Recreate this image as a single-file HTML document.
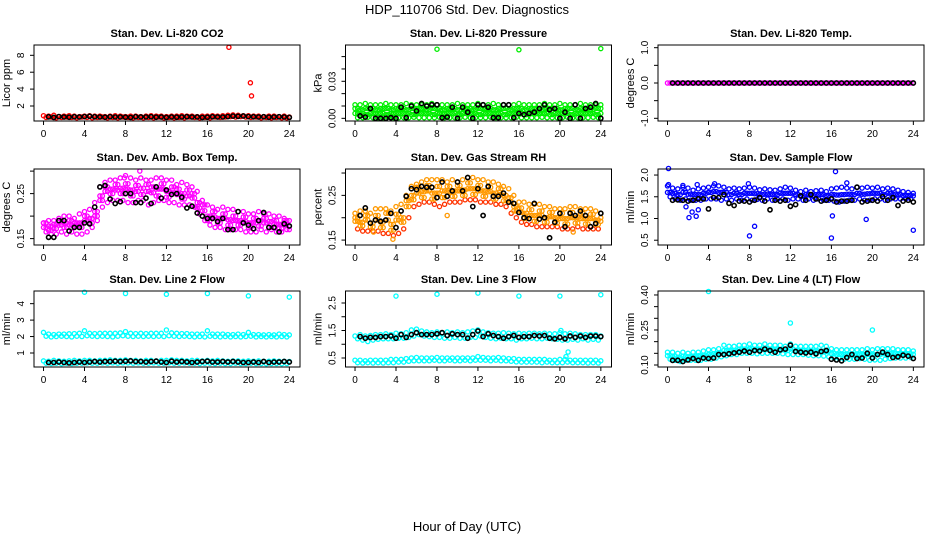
<!DOCTYPE html>
<html><head><meta charset="utf-8"><style>
html,body{margin:0;padding:0;background:#fff}
svg{display:block;font-family:"Liberation Sans",sans-serif}
</style></head><body>
<svg id="chart" width="936" height="540" viewBox="0 0 936 540">
<text x="467" y="14" text-anchor="middle" font-size="13">HDP_110706  Std. Dev. Diagnostics</text>
<text x="467" y="531" text-anchor="middle" font-size="13">Hour of Day (UTC)</text>
</svg>
<script>
const xTicks=[0,4,8,12,16,20,24];
const co2RedA=[0.85,0.8,0.9,0.75,0.8,0.85,0.8,0.75,0.8,0.85,0.8,0.8,0.75,0.8,0.85,0.8,0.75,0.8,0.8,0.75,0.8,0.85,0.8,0.8,0.75,0.8,0.8,0.85,0.8,0.8,0.75,0.8,0.8,0.85,0.8,0.85,0.9,0.95,0.9,0.85,0.85,0.8,0.8,0.75,0.8,0.8,0.75,0.8,0.7];
const co2RedB=[0.65,0.7,0.6,0.65,0.7,0.65,0.6,0.7,0.65,0.6,0.65,0.7,0.6,0.65,0.6,0.7,0.65,0.6,0.65,0.6,0.65,0.6,0.7,0.6,0.65,0.6,0.65,0.6,0.7,0.65,0.6,0.65,0.6,0.7,0.65,0.7,0.75,0.7,0.75,0.7,0.65,0.7,0.6,0.65,0.6,0.65,0.6,0.6,0.55];
const co2Black=[0.72,0.65,0.75,0.7,0.68,0.72,0.7,0.75,0.78,0.72,0.7,0.68,0.72,0.7,0.7,0.68,0.65,0.72,0.7,0.7,0.72,0.68,0.7,0.65,0.7,0.68,0.7,0.72,0.7,0.7,0.65,0.68,0.72,0.7,0.7,0.75,0.8,0.78,0.82,0.75,0.72,0.7,0.72,0.68,0.7,0.72,0.7,0.65];
const co2OutX=[18.1,20.2,20.3], co2OutY=[8.95,4.75,3.2];

const prA=[0.011,0.011,0.012,0.011,0.011,0.011,0.012,0.011,0.011,0.011,0.012,0.011,0.011,0.011,0.011,0.012,0.011,0.011,0.011,0.011,0.012,0.011,0.011,0.011,0.012,0.011,0.011,0.012,0.011,0.011,0.011,0.011,0.012,0.011,0.011,0.011,0.011,0.012,0.011,0.011,0.012,0.011,0.011,0.011,0.012,0.011,0.011,0.011,0.011];
const prB=[0.008,0.007,0.008,0.008,0.007,0.008,0.008,0.007,0.008,0.008,0.007,0.008,0.008,0.008,0.007,0.008,0.008,0.007,0.008,0.008,0.007,0.008,0.008,0.007,0.008,0.008,0.008,0.007,0.008,0.008,0.007,0.008,0.008,0.007,0.008,0.008,0.007,0.008,0.008,0.008,0.007,0.008,0.008,0.007,0.008,0.008,0.007,0.008,0.008];
const prC=[0.004,0.004,0.003,0.004,0.004,0.004,0.003,0.004,0.004,0.004,0.004,0.003,0.004,0.004,0.004,0.003,0.004,0.004,0.004,0.004,0.003,0.004,0.004,0.004,0.003,0.004,0.004,0.004,0.004,0.003,0.004,0.004,0.004,0.003,0.004,0.004,0.004,0.004,0.003,0.004,0.004,0.004,0.003,0.004,0.004,0.004,0.004,0.003,0.004];
const prD=[0.0005,0.0005,0.0008,0.0005,0.0005,0.0005,0.0008,0.0005,0.0005,0.0005,0.0005,0.0008,0.0005,0.0005,0.0005,0.0005,0.0008,0.0005,0.0005,0.0005,0.0005,0.0008,0.0005,0.0005,0.0005,0.0005,0.0008,0.0005,0.0005,0.0005,0.0005,0.0008,0.0005,0.0005,0.0005,0.0005,0.0008,0.0005,0.0005,0.0005,0.0005,0.0008,0.0005,0.0005,0.0005,0.0005,0.0008,0.0005,0.0005];
const prBlack=[0.002,0.001,0.008,0.0,0.0,0.0,0.0005,0.0,0.009,0.0005,0.01,0.006,0.012,0.01,0.011,0.011,0.0005,0.001,0.009,0.0,0.009,0.005,0.0,0.011,0.011,0.009,0.0005,0.0005,0.011,0.011,0.0005,0.004,0.003,0.004,0.005,0.008,0.011,0.007,0.008,0.0,0.005,0.0,0.011,0.0,0.008,0.009,0.012,0.0];
const prOutX=[8.0,16.0,24.0], prOutY=[0.056,0.0555,0.0565];

const tmpA=[0,0,0,0,0,0,0,0,0,0,0,0,0,0,0,0,0,0,0,0,0,0,0,0,0,0,0,0,0,0,0,0,0,0,0,0,0,0,0,0,0,0,0,0,0,0,0,0,0];
const tmpBlack=[0,0,0,0,0,0,0,0,0,0,0,0,0,0,0,0,0,0,0,0,0,0,0,0,0,0,0,0,0,0,0,0,0,0,0,0,0,0,0,0,0,0,0,0,0,0,0,0];

const ambHi=[0.185,0.19,0.19,0.195,0.2,0.2,0.195,0.205,0.21,0.215,0.23,0.265,0.275,0.28,0.28,0.285,0.29,0.285,0.28,0.285,0.28,0.28,0.285,0.285,0.28,0.28,0.27,0.275,0.27,0.265,0.255,0.235,0.225,0.22,0.215,0.22,0.215,0.215,0.21,0.21,0.205,0.205,0.21,0.205,0.205,0.2,0.2,0.195,0.19];
const ambLo=[0.165,0.16,0.16,0.165,0.16,0.165,0.16,0.16,0.165,0.175,0.19,0.22,0.23,0.235,0.235,0.235,0.23,0.23,0.235,0.235,0.225,0.23,0.235,0.235,0.23,0.23,0.225,0.225,0.225,0.22,0.205,0.19,0.18,0.175,0.175,0.17,0.17,0.17,0.17,0.165,0.165,0.165,0.17,0.165,0.17,0.165,0.165,0.17,0.165];
const ambM1=[0.175,0.178,0.172,0.18,0.185,0.18,0.178,0.185,0.19,0.195,0.21,0.245,0.255,0.26,0.258,0.262,0.26,0.258,0.255,0.262,0.255,0.252,0.26,0.26,0.255,0.252,0.248,0.25,0.245,0.24,0.23,0.212,0.2,0.198,0.195,0.195,0.192,0.19,0.19,0.188,0.185,0.185,0.19,0.185,0.188,0.182,0.182,0.18,0.178];
const ambM2=[0.185,0.168,0.182,0.19,0.175,0.19,0.185,0.175,0.2,0.185,0.2,0.235,0.265,0.25,0.27,0.25,0.272,0.245,0.268,0.248,0.27,0.265,0.245,0.272,0.242,0.265,0.26,0.238,0.258,0.25,0.218,0.225,0.19,0.21,0.185,0.205,0.18,0.2,0.18,0.198,0.175,0.195,0.178,0.195,0.175,0.19,0.172,0.19,0.17];
const ambBlack=[0.153,0.153,0.19,0.19,0.167,0.175,0.175,0.185,0.183,0.22,0.265,0.268,0.238,0.228,0.232,0.25,0.25,0.23,0.23,0.24,0.228,0.265,0.24,0.258,0.248,0.25,0.242,0.218,0.222,0.207,0.2,0.195,0.195,0.188,0.195,0.17,0.17,0.21,0.185,0.18,0.172,0.19,0.208,0.175,0.175,0.165,0.183,0.178];
const ambOutX=[9.4,7.9], ambOutY=[0.3,0.285];

const rhHi=[0.21,0.215,0.215,0.21,0.22,0.22,0.22,0.215,0.225,0.23,0.25,0.27,0.275,0.28,0.285,0.285,0.285,0.285,0.28,0.285,0.28,0.285,0.29,0.29,0.285,0.285,0.28,0.28,0.275,0.27,0.265,0.25,0.235,0.235,0.23,0.23,0.23,0.225,0.225,0.22,0.22,0.22,0.225,0.225,0.22,0.22,0.22,0.215,0.21];
const rhLo=[0.175,0.17,0.17,0.17,0.17,0.165,0.165,0.16,0.165,0.175,0.2,0.225,0.23,0.235,0.235,0.23,0.225,0.23,0.235,0.235,0.235,0.24,0.24,0.24,0.235,0.235,0.235,0.23,0.23,0.225,0.21,0.2,0.19,0.185,0.185,0.18,0.18,0.18,0.18,0.18,0.175,0.175,0.175,0.18,0.175,0.175,0.175,0.175,0.175];
const rhM1=[0.192,0.19,0.195,0.188,0.195,0.19,0.195,0.185,0.195,0.2,0.225,0.25,0.255,0.258,0.26,0.255,0.255,0.26,0.258,0.26,0.26,0.262,0.265,0.265,0.26,0.26,0.258,0.255,0.252,0.25,0.235,0.225,0.212,0.21,0.205,0.205,0.205,0.2,0.202,0.2,0.198,0.198,0.2,0.2,0.198,0.198,0.198,0.195,0.192];
const rhM2=[0.2,0.182,0.205,0.18,0.205,0.178,0.21,0.172,0.208,0.19,0.238,0.24,0.268,0.245,0.272,0.242,0.27,0.245,0.27,0.248,0.272,0.25,0.278,0.252,0.272,0.248,0.268,0.242,0.265,0.238,0.245,0.215,0.222,0.198,0.218,0.192,0.215,0.19,0.212,0.188,0.21,0.186,0.212,0.188,0.21,0.186,0.208,0.185,0.2];
const rhBlack=[0.205,0.222,0.188,0.195,0.192,0.195,0.21,0.178,0.215,0.248,0.265,0.263,0.27,0.268,0.268,0.245,0.28,0.248,0.26,0.28,0.26,0.29,0.225,0.265,0.205,0.27,0.248,0.248,0.255,0.235,0.232,0.212,0.2,0.198,0.232,0.197,0.2,0.155,0.19,0.21,0.18,0.21,0.205,0.215,0.205,0.18,0.187,0.21];
const rhOutX=[3.7,1.8,9.0,21.3], rhOutY=[0.152,0.168,0.205,0.168];

const sfHi=[1.75,1.7,1.68,1.72,1.7,1.65,1.68,1.7,1.72,1.75,1.75,1.72,1.68,1.7,1.68,1.7,1.72,1.7,1.66,1.68,1.66,1.65,1.68,1.72,1.7,1.65,1.62,1.65,1.62,1.64,1.65,1.62,1.68,1.7,1.72,1.7,1.68,1.72,1.7,1.72,1.7,1.72,1.68,1.7,1.68,1.65,1.62,1.6,1.58];
const sfLo=[1.5,1.45,1.42,1.45,1.42,1.42,1.42,1.45,1.45,1.45,1.42,1.45,1.42,1.45,1.42,1.45,1.42,1.44,1.42,1.45,1.42,1.44,1.45,1.42,1.45,1.45,1.42,1.45,1.42,1.45,1.42,1.42,1.4,1.38,1.4,1.42,1.42,1.45,1.42,1.42,1.45,1.45,1.42,1.45,1.45,1.45,1.45,1.45,1.45];
const sfMid=[1.6,1.58,1.55,1.6,1.56,1.55,1.55,1.58,1.6,1.62,1.6,1.6,1.55,1.58,1.55,1.58,1.58,1.57,1.55,1.56,1.55,1.55,1.58,1.58,1.58,1.55,1.53,1.55,1.53,1.55,1.55,1.53,1.55,1.54,1.55,1.56,1.55,1.58,1.56,1.57,1.58,1.58,1.55,1.58,1.56,1.55,1.53,1.53,1.52];
const sfBlack=[1.42,1.43,1.42,1.4,1.42,1.45,1.45,1.22,1.48,1.48,1.55,1.35,1.3,1.4,1.4,1.38,1.42,1.48,1.4,1.2,1.42,1.4,1.42,1.28,1.32,1.52,1.42,1.55,1.45,1.4,1.42,1.45,1.38,1.4,1.4,1.42,1.72,1.38,1.4,1.42,1.4,1.5,1.42,1.48,1.3,1.4,1.42,1.38];
const sfOutX=[0.1,0.1,1.8,2.1,2.4,2.8,3.0,2.9,8.0,8.5,16.0,16.1,16.4,19.4,24.0,7.9,17.5,1.5,4.6];
const sfOutY=[2.15,1.78,1.27,1.02,1.15,1.05,1.2,1.78,0.6,0.82,0.55,1.06,2.08,0.98,0.73,1.8,1.82,1.76,1.8];

const l2HiA=[2.25,2.15,2.12,2.15,2.15,2.17,2.18,2.2,2.35,2.2,2.18,2.2,2.2,2.2,2.2,2.22,2.3,2.2,2.18,2.2,2.18,2.2,2.2,2.2,2.4,2.22,2.2,2.18,2.18,2.15,2.15,2.15,2.35,2.15,2.15,2.15,2.12,2.12,2.15,2.12,2.25,2.12,2.12,2.1,2.12,2.1,2.15,2.12,2.1];
const l2LoA=[2.02,1.98,2.0,2.02,2.0,1.98,2.02,2.0,2.05,2.02,2.0,2.02,2.0,1.98,2.02,2.05,2.02,2.0,2.02,2.0,2.02,2.0,2.02,2.0,2.05,2.02,2.0,2.02,2.0,1.98,2.0,1.98,2.02,2.0,1.98,2.0,1.98,2.0,1.98,2.0,2.02,1.98,2.0,1.98,2.0,1.98,2.0,1.98,1.95];
const l2BotA=[0.52,0.5,0.55,0.52,0.5,0.52,0.55,0.52,0.55,0.55,0.52,0.55,0.55,0.58,0.55,0.55,0.58,0.55,0.55,0.52,0.55,0.55,0.52,0.55,0.55,0.58,0.55,0.55,0.52,0.55,0.55,0.52,0.55,0.52,0.55,0.52,0.5,0.52,0.52,0.5,0.52,0.5,0.52,0.5,0.5,0.52,0.5,0.5,0.48];
const l2BotB=[0.38,0.36,0.38,0.35,0.38,0.36,0.38,0.38,0.4,0.38,0.38,0.4,0.38,0.4,0.38,0.4,0.4,0.38,0.4,0.38,0.38,0.4,0.38,0.38,0.4,0.38,0.38,0.4,0.38,0.38,0.36,0.38,0.38,0.36,0.38,0.36,0.36,0.38,0.36,0.36,0.38,0.36,0.36,0.35,0.36,0.36,0.35,0.36,0.36];
const l2Black=[0.42,0.42,0.45,0.42,0.4,0.42,0.45,0.42,0.45,0.48,0.45,0.48,0.48,0.5,0.48,0.5,0.52,0.48,0.48,0.45,0.48,0.5,0.45,0.42,0.5,0.45,0.48,0.45,0.42,0.45,0.48,0.5,0.45,0.45,0.48,0.45,0.48,0.45,0.42,0.42,0.45,0.42,0.48,0.42,0.45,0.45,0.48,0.45];
const l2OutX=[4,8,12,16,20,24], l2OutY=[4.7,4.62,4.57,4.62,4.47,4.4];

const l3HiA=[1.3,1.35,1.3,1.32,1.35,1.35,1.38,1.35,1.4,1.38,1.42,1.52,1.55,1.48,1.45,1.42,1.45,1.4,1.45,1.42,1.45,1.42,1.45,1.48,1.52,1.45,1.42,1.4,1.4,1.42,1.4,1.38,1.4,1.38,1.4,1.4,1.38,1.4,1.38,1.38,1.42,1.38,1.4,1.38,1.35,1.35,1.35,1.35,1.3];
const l3LoA=[1.2,1.15,1.1,1.15,1.18,1.2,1.2,1.2,1.22,1.22,1.25,1.3,1.35,1.3,1.28,1.25,1.25,1.22,1.22,1.25,1.22,1.22,1.25,1.25,1.3,1.25,1.22,1.2,1.22,1.2,1.2,1.15,1.2,1.2,1.22,1.2,1.2,1.22,1.2,1.18,1.15,1.15,1.18,1.15,1.2,1.15,1.18,1.15,1.2];
const l3BotA=[0.42,0.42,0.4,0.42,0.42,0.42,0.42,0.45,0.45,0.45,0.48,0.5,0.52,0.5,0.5,0.5,0.52,0.5,0.5,0.5,0.5,0.5,0.5,0.5,0.55,0.52,0.5,0.5,0.52,0.5,0.48,0.48,0.45,0.45,0.45,0.45,0.45,0.45,0.42,0.42,0.45,0.45,0.42,0.42,0.42,0.42,0.42,0.42,0.4];
const l3BotB=[0.33,0.32,0.33,0.32,0.33,0.32,0.33,0.33,0.35,0.35,0.38,0.4,0.4,0.4,0.4,0.42,0.4,0.4,0.42,0.4,0.4,0.42,0.4,0.42,0.42,0.42,0.4,0.42,0.4,0.4,0.38,0.36,0.35,0.35,0.35,0.35,0.33,0.35,0.33,0.33,0.33,0.35,0.33,0.33,0.33,0.32,0.33,0.32,0.32];
const l3Black=[1.28,1.22,1.25,1.25,1.28,1.28,1.3,1.22,1.35,1.25,1.35,1.42,1.35,1.35,1.35,1.38,1.42,1.32,1.38,1.35,1.35,1.22,1.35,1.48,1.28,1.38,1.32,1.28,1.22,1.28,1.32,1.25,1.28,1.28,1.32,1.3,1.32,1.22,1.2,1.25,1.2,1.3,1.25,1.3,1.25,1.3,1.3,1.28];
const l3OutX=[4,8,12,16,20,24,20.8,20.6,20.1], l3OutY=[2.75,2.82,2.86,2.75,2.75,2.8,0.72,0.55,1.5];

const l4HiA=[0.155,0.155,0.15,0.155,0.15,0.155,0.155,0.16,0.165,0.165,0.17,0.185,0.18,0.18,0.185,0.185,0.19,0.185,0.185,0.19,0.185,0.185,0.185,0.18,0.19,0.18,0.18,0.18,0.18,0.18,0.185,0.18,0.17,0.165,0.165,0.165,0.165,0.165,0.165,0.17,0.165,0.17,0.17,0.17,0.17,0.165,0.165,0.165,0.16];
const l4LoA=[0.125,0.12,0.115,0.12,0.12,0.12,0.12,0.125,0.125,0.13,0.135,0.14,0.145,0.145,0.15,0.15,0.15,0.148,0.15,0.15,0.15,0.15,0.148,0.145,0.145,0.145,0.145,0.142,0.14,0.14,0.138,0.135,0.13,0.128,0.125,0.125,0.125,0.128,0.125,0.12,0.122,0.12,0.125,0.128,0.13,0.13,0.13,0.132,0.132];
const l4Mid=[0.14,0.138,0.132,0.138,0.135,0.138,0.14,0.142,0.145,0.148,0.152,0.162,0.162,0.162,0.168,0.168,0.17,0.166,0.168,0.17,0.168,0.168,0.165,0.162,0.168,0.162,0.162,0.16,0.16,0.16,0.16,0.158,0.15,0.146,0.145,0.145,0.145,0.146,0.145,0.145,0.144,0.145,0.148,0.15,0.15,0.148,0.148,0.148,0.146];
const l4Black=[0.12,0.12,0.115,0.122,0.128,0.12,0.13,0.128,0.13,0.145,0.145,0.148,0.152,0.155,0.16,0.155,0.162,0.16,0.168,0.162,0.155,0.165,0.168,0.185,0.158,0.155,0.152,0.155,0.148,0.158,0.162,0.125,0.122,0.118,0.132,0.145,0.128,0.13,0.15,0.13,0.145,0.155,0.145,0.132,0.135,0.142,0.138,0.128];
const l4OutX=[4,12,20], l4OutY=[0.415,0.28,0.25];

const panelTitles=["Stan. Dev. Li-820 CO2","Stan. Dev. Li-820 Pressure","Stan. Dev. Li-820 Temp.","Stan. Dev. Amb. Box Temp.","Stan. Dev. Gas Stream RH","Stan. Dev. Sample Flow","Stan. Dev. Line 2 Flow","Stan. Dev. Line 3 Flow","Stan. Dev. Line 4 (LT) Flow"];
const yLabels=["Licor ppm","kPa","degrees C","degrees C","percent","ml/min","ml/min","ml/min","ml/min"];

const colLeft=[34,345.5,658], rowTop=[45,169,291], W=266, H=76;
const XMIN=-0.93, XMAX=25.04;
const panels=[
 {ymin:0.225,ymax:9.22,ticks:[2,4,6,8],lab:["2","4","6","8"],col:"#ff0000",ser:[[co2RedA,0],[co2RedB,0.25]],blk:co2Black,ox:co2OutX,oy:co2OutY,oc:"#ff0000"},
 {ymin:-0.00216,ymax:0.0594,ticks:[0,0.01,0.02,0.03,0.04,0.05],lab:["0.00","","","0.03","",""],col:"#00ee00",ser:[[prA,0],[prB,0.25],[prC,0],[prD,0.25],[prB,0],[prC,0.25]],blk:prBlack,ox:prOutX,oy:prOutY,oc:"#00ee00"},
 {ymin:-1.076,ymax:1.076,ticks:[-1,-0.5,0,0.5,1],lab:["-1.0","","0.0","","1.0"],col:"#ff00ff",ser:[[tmpA,0],[tmpA,0.25]],blk:tmpBlack,ox:[],oy:[],oc:"#ff00ff"},
 {ymin:0.1358,ymax:0.3047,ticks:[0.15,0.2,0.25,0.3],lab:["0.15","","0.25",""],col:"#ff00ff",ser:[[ambHi,0],[ambLo,0.25],[ambM1,0.25],[ambM2,0],[ambM1,0],[ambM2,0.25]],blk:ambBlack,ox:ambOutX,oy:ambOutY,oc:"#ff00ff"},
 {ymin:0.139,ymax:0.309,ticks:[0.15,0.2,0.25,0.3],lab:["0.15","","0.25",""],col:"#ff9900",ser:[[rhHi,0],[rhLo,0.25],[rhM1,0.25],[rhM2,0],[rhM1,0],[rhM2,0.25]],blk:rhBlack,ox:rhOutX,oy:rhOutY,oc:"#ff9900",col2:"#ff3300"},
 {ymin:0.39,ymax:2.139,ticks:[0.5,1,1.5,2],lab:["0.5","1.0","1.5","2.0"],col:"#0000ff",ser:[[sfHi,0],[sfLo,0.25],[sfMid,0.25],[sfMid,0]],blk:sfBlack,ox:sfOutX,oy:sfOutY,oc:"#0000ff"},
 {ymin:0.148,ymax:4.77,ticks:[1,2,3,4],lab:["1","2","3","4"],col:"#00ffff",ser:[[l2HiA,0],[l2LoA,0.25],[l2BotA,0],[l2BotB,0.25]],blk:l2Black,ox:l2OutX,oy:l2OutY,oc:"#00ffff"},
 {ymin:0.173,ymax:2.936,ticks:[0.5,1,1.5,2,2.5],lab:["0.5","","1.5","","2.5"],col:"#00ffff",ser:[[l3HiA,0],[l3LoA,0.25],[l3BotA,0],[l3BotB,0.25]],blk:l3Black,ox:l3OutX,oy:l3OutY,oc:"#00ffff"},
 {ymin:0.0914,ymax:0.417,ticks:[0.1,0.15,0.2,0.25,0.3,0.35,0.4],lab:["0.10","","","0.25","","","0.40"],col:"#00ffff",ser:[[l4HiA,0],[l4LoA,0.25],[l4Mid,0],[l4Mid,0.25]],blk:l4Black,ox:l4OutX,oy:l4OutY,oc:"#00ffff"}
];

const NS="http://www.w3.org/2000/svg";
const svg=document.getElementById('chart');
function mk(tag,attrs,parent){const e=document.createElementNS(NS,tag);for(const k in attrs)e.setAttribute(k,attrs[k]);(parent||svg).appendChild(e);return e;}

panels.forEach((p,i)=>{
  const L=colLeft[i%3], T=rowTop[Math.floor(i/3)];
  const xs=h=>L+(h-XMIN)/(XMAX-XMIN)*W;
  const ys=v=>T+H-(v-p.ymin)/(p.ymax-p.ymin)*H;
  const g=mk('g',{});
  
  
  const t=mk('text',{x:L+W/2,y:T-8,'text-anchor':'middle','font-size':'11','font-weight':'bold'},g);
  t.textContent=panelTitles[i];
  
  
  const yl=mk('text',{x:0,y:0,'text-anchor':'middle','font-size':'11',transform:`translate(${L-24},${T+H/2}) rotate(-90)`},g);
  yl.textContent=yLabels[i];
  
  
  const pts=mk('g',{fill:'none','stroke-width':'1.3'},g);
  
  
  p.ser.forEach((s,si)=>{
    const arr=s[0], off=s[1];
    const c=(p.col2&&si===1)?p.col2:p.col;
    arr.forEach((v,k)=>{
      const h=k*0.5+off; if(h>24.1)return;
      const c1=mk('circle',{cx:xs(h).toFixed(1),cy:ys(v).toFixed(1),r:2.1,stroke:c},pts);
      
      
    });
  });
  p.ox.forEach((h,k)=>{
    const c1=mk('circle',{cx:xs(h).toFixed(1),cy:ys(p.oy[k]).toFixed(1),r:2.1,stroke:p.oc},pts);
    
    
  });
  p.blk.forEach((v,k)=>{
    const c1=mk('circle',{cx:xs(0.5+k*0.5).toFixed(1),cy:ys(v).toFixed(1),r:2.1,stroke:'#000','stroke-width':'1.6'},pts);
    
    
  });
  const box=mk('rect',{x:L,y:T,width:W,height:H,fill:'none',stroke:'#000','stroke-width':'1'},g);
  
  
  xTicks.forEach(h=>{
    const x=xs(h);
    const tk=mk('line',{x1:x,x2:x,y1:T+H,y2:T+H+4,stroke:'#000'},g);
    
    
    const tl=mk('text',{x:x,y:T+H+16,'text-anchor':'middle','font-size':'10'},g);
    tl.textContent=h;
    
    
  });
  p.ticks.forEach((v,k)=>{
    const y=ys(v);
    const tk=mk('line',{x1:L-4,x2:L,y1:y,y2:y,stroke:'#000'},g);
    
    
    if(p.lab[k]){
      const tl=mk('text',{x:0,y:0,'text-anchor':'middle','font-size':'10',transform:`translate(${L-10},${y}) rotate(-90)`},g);
      tl.textContent=p.lab[k];
      
      
    }
  });
});
</script>
</body></html>
